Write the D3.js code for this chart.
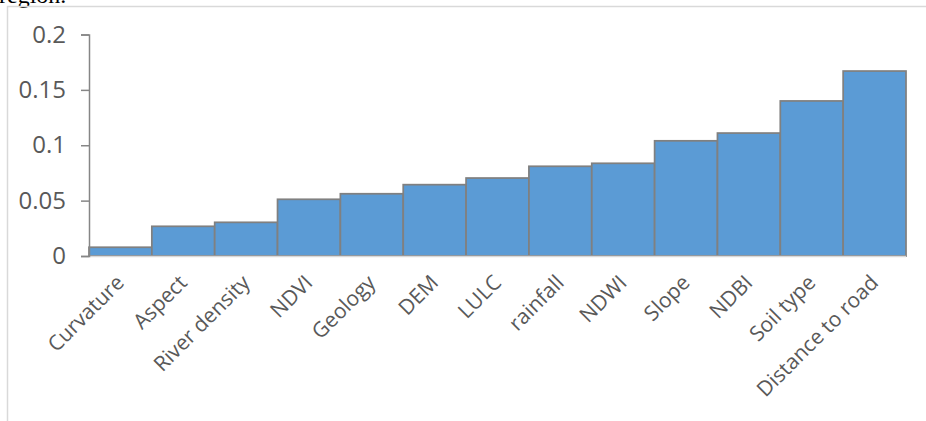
<!DOCTYPE html>
<html>
<head>
<meta charset="utf-8">
<script src="https://cdn.jsdelivr.net/npm/d3@7"></script>
<style>
  body { margin: 0; background: #fff; }
  svg { display: block; }
</style>
</head>
<body>
<div id="chart-area"></div>
<script>
// factor names and their weights
var factors = ["Curvature", "Aspect", "River density", "NDVI", "Geology", "DEM", "LULC",
               "rainfall", "NDWI", "Slope", "NDBI", "Soil type", "Distance to road"];
var weights = [0.0079, 0.0268, 0.0304, 0.0512, 0.0562, 0.0644, 0.0704,
               0.081, 0.0837, 0.104, 0.111, 0.140, 0.167];
var yTicks = [0, 0.05, 0.1, 0.15, 0.2];

var W = 926, H = 421;
var svg = d3.select("#chart-area")
    .append("svg")
    .attr("width", W)
    .attr("height", H);

// bit of the document text above the chart
svg.append("text")
    .attr("x", -1)
    .attr("y", 3)
    .attr("font-family", "Liberation Serif, Times New Roman, serif")
    .attr("font-size", 24)
    .attr("fill", "#000")
    .text("region.");

// chart frame (runs off the page right and bottom)
svg.append("rect")
    .attr("x", 7.5)
    .attr("y", 6.5)
    .attr("width", 1000)
    .attr("height", 600)
    .attr("fill", "none")
    .attr("stroke", "#d9d9d9")
    .attr("stroke-width", 1.5);

var x = d3.scaleBand()
    .domain(factors)
    .range([89, 906])
    .padding(0);

var y = d3.scaleLinear()
    .domain([0, 0.2])
    .range([256, 34.5]);

// bars
svg.selectAll("rect.bar")
    .data(factors)
    .enter()
    .append("rect")
    .attr("class", "bar")
    .attr("x", d => x(d))
    .attr("y", (d, i) => y(weights[i]))
    .attr("width", x.bandwidth())
    .attr("height", (d, i) => y(0) - y(weights[i]))
    .attr("fill", "#5b9bd5")
    .attr("stroke", "#808080")
    .attr("stroke-width", 1.75);

// x axis line
svg.append("line")
    .attr("x1", 89).attr("x2", 906)
    .attr("y1", y(0) + 0.5).attr("y2", y(0) + 0.5)
    .attr("stroke", "#d9d9d9")
    .attr("stroke-width", 1.5);

// y axis
var yAxis = svg.append("g")
    .attr("transform", "translate(89,0)")
    .call(d3.axisLeft(y).tickValues(yTicks).tickFormat(d => String(d)).tickSize(8).tickPadding(15));
yAxis.select(".domain").attr("stroke", "#868686").attr("stroke-width", 1.5);
yAxis.selectAll(".tick line").attr("stroke", "#868686").attr("stroke-width", 1.5);
yAxis.selectAll(".tick text")
    .attr("fill", "#595959")
    .attr("font-family", "Open Sans, sans-serif")
    .attr("font-size", 24);

// category labels, rotated
svg.selectAll("text.cat")
    .data(factors)
    .enter()
    .append("text")
    .attr("class", "cat")
    .attr("transform", d => "translate(" + (x(d) + x.bandwidth() / 2 + 5) + ",284) rotate(-45)")
    .attr("text-anchor", "end")
    .attr("font-family", "Open Sans, sans-serif")
    .attr("font-size", 21)
    .attr("fill", "#595959")
    .text(d => d);
</script>
</body>
</html>
